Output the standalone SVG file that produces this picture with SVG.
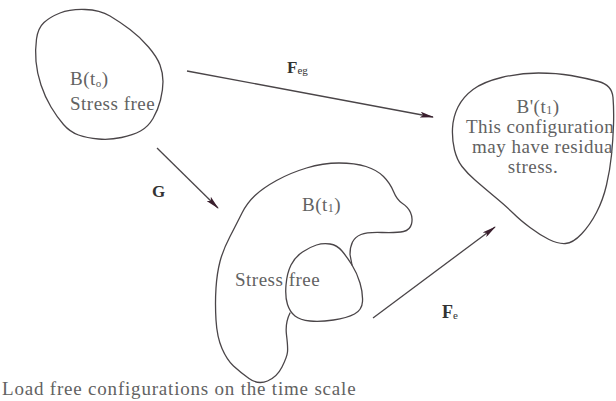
<svg xmlns="http://www.w3.org/2000/svg" width="616" height="401" viewBox="0 0 616 401">
<style>
.blob{fill:none;stroke:#4a4548;stroke-width:1.3;stroke-linejoin:round;stroke-linecap:round}
.arr{fill:none;stroke:#4a4548;stroke-width:1.3;marker-end:url(#ah)}
.t{font-family:"Liberation Serif","Times New Roman",serif;font-size:19px;fill:#626262;letter-spacing:0.5px}
.lb{font-family:"Liberation Serif","Times New Roman",serif;font-size:17px;font-weight:bold;fill:#333}
.sub{font-size:11px;font-weight:normal}
</style>
<defs>
<marker id="ah" viewBox="0 0 14 6" refX="13" refY="3" markerWidth="14" markerHeight="6" markerUnits="userSpaceOnUse" orient="auto">
<path d="M0,0 L14,3 L0,6 L3,3 z" fill="#3b1f2e"/>
</marker>
</defs>
<rect width="616" height="401" fill="#ffffff"/>
<g id="connectors">
<line class="arr" x1="187" y1="71" x2="433" y2="117"/>
<line class="arr" x1="157" y1="148" x2="218" y2="208"/>
<line class="arr" x1="373" y1="318" x2="495" y2="227"/>
<text class="lb" x="287" y="73">F<tspan class="sub" dy="1">eg</tspan></text>
<text class="lb" x="152" y="197">G</text>
<text class="lb" x="442" y="318" style="font-size:18px">F<tspan class="sub" dy="1">e</tspan></text>
</g>
<g id="node-Bt0">
<path class="blob" d="M85,9.5 Q100,10 110,16 Q120,22 130,29.5 Q140,37 148.5,47 Q157,57 160,65 Q163,73 163,81.5 Q163,90 160.5,100 Q158,110 153,118.5 Q148,127 140.5,131 Q133,135 121.5,137.5 Q110,140 98.5,139 Q87,138 78.5,135 Q70,132 63.5,124.5 Q57,117 51,107 Q45,97 41,85 Q37,73 36,61.5 Q35,50 36.5,39 Q38,28 44,22.5 Q50,17 60,13 Q70,9 85,9.5 Z"/>
<text class="t" x="70" y="85">B(t<tspan font-size="11" dy="2">o</tspan><tspan dy="-2">)</tspan></text>
<text class="t" x="70" y="110">Stress free</text>
</g>
<g id="node-Bprime">
<path class="blob" d="M501.5,77.5 Q520,73 538.5,73 Q557,73 571,75.5 Q585,78 598.5,81.5 Q612,85 613,97.5 Q614,110 613.5,125 Q613,140 611.5,155 Q610,170 606.5,185 Q603,200 596.5,212.5 Q590,225 581.5,234 Q573,243 565.5,243.5 Q558,244 549,239.5 Q540,235 530,227.5 Q520,220 513.5,213.5 Q507,207 495,197 Q483,187 475,180 Q467,173 462,166.5 Q457,160 454.5,150 Q452,140 452.5,128.5 Q453,117 458,107 Q463,97 473,89.5 Q483,82 501.5,77.5 Z"/>
<text class="t" x="538" y="113" text-anchor="middle">B'(t<tspan font-size="12" dy="1">1</tspan><tspan dy="-1">)</tspan></text>
<text class="t" x="466" y="133" style="letter-spacing:0.4px">This configuration</text>
<text class="t" x="472" y="153">may have residua</text>
<text class="t" x="533" y="173" text-anchor="middle">stress.</text>
</g>
<g id="node-Bt1">
<path class="blob" d="M352,265 L350,254.5 Q350,247 352.5,242 Q355,237 361,234.5 Q367,232 382,232.5 Q397,233 403.5,231.5 Q410,230 411.5,224 Q413,218 410.5,212.5 Q408,207 402.5,203.5 Q397,200 393.5,191.5 Q390,183 383.5,176.5 Q377,170 366,166.5 Q355,163 339,163 Q323,163 306.5,168 Q290,173 276.5,180.5 Q263,188 255,195.5 Q247,203 242,213 Q237,223 230,236.5 Q223,250 220,261.5 Q217,273 216,288 Q215,303 216,320 Q217,337 222,348.5 Q227,360 233.5,366 Q240,372 249,378.5 Q258,385 267.5,381 Q277,377 282,367 Q287,357 287.5,352 Q288,347 286.5,335 Q285,323 290,313"/>
<text class="t" x="302" y="211">B(t<tspan font-size="12" dy="1">1</tspan><tspan dy="-1">)</tspan></text>
</g>
<g id="node-stressfree">
<path class="blob" d="M316.5,245 Q323,243 330,244 Q337,245 342,251 Q347,257 352,265 Q357,273 360,283 Q363,293 362.5,301.5 Q362,310 354.5,314 Q347,318 333.5,320 Q320,322 310,321 Q300,320 295,316 Q290,312 287.5,304.5 Q285,297 286,285 Q287,273 291,265 Q295,257 302.5,252 Q310,247 316.5,245 Z"/>
<text class="t" x="235" y="286">Stress free</text>
</g>
<text class="t" x="2" y="395" style="letter-spacing:0.8px">Load free configurations on the time scale</text>
</svg>
